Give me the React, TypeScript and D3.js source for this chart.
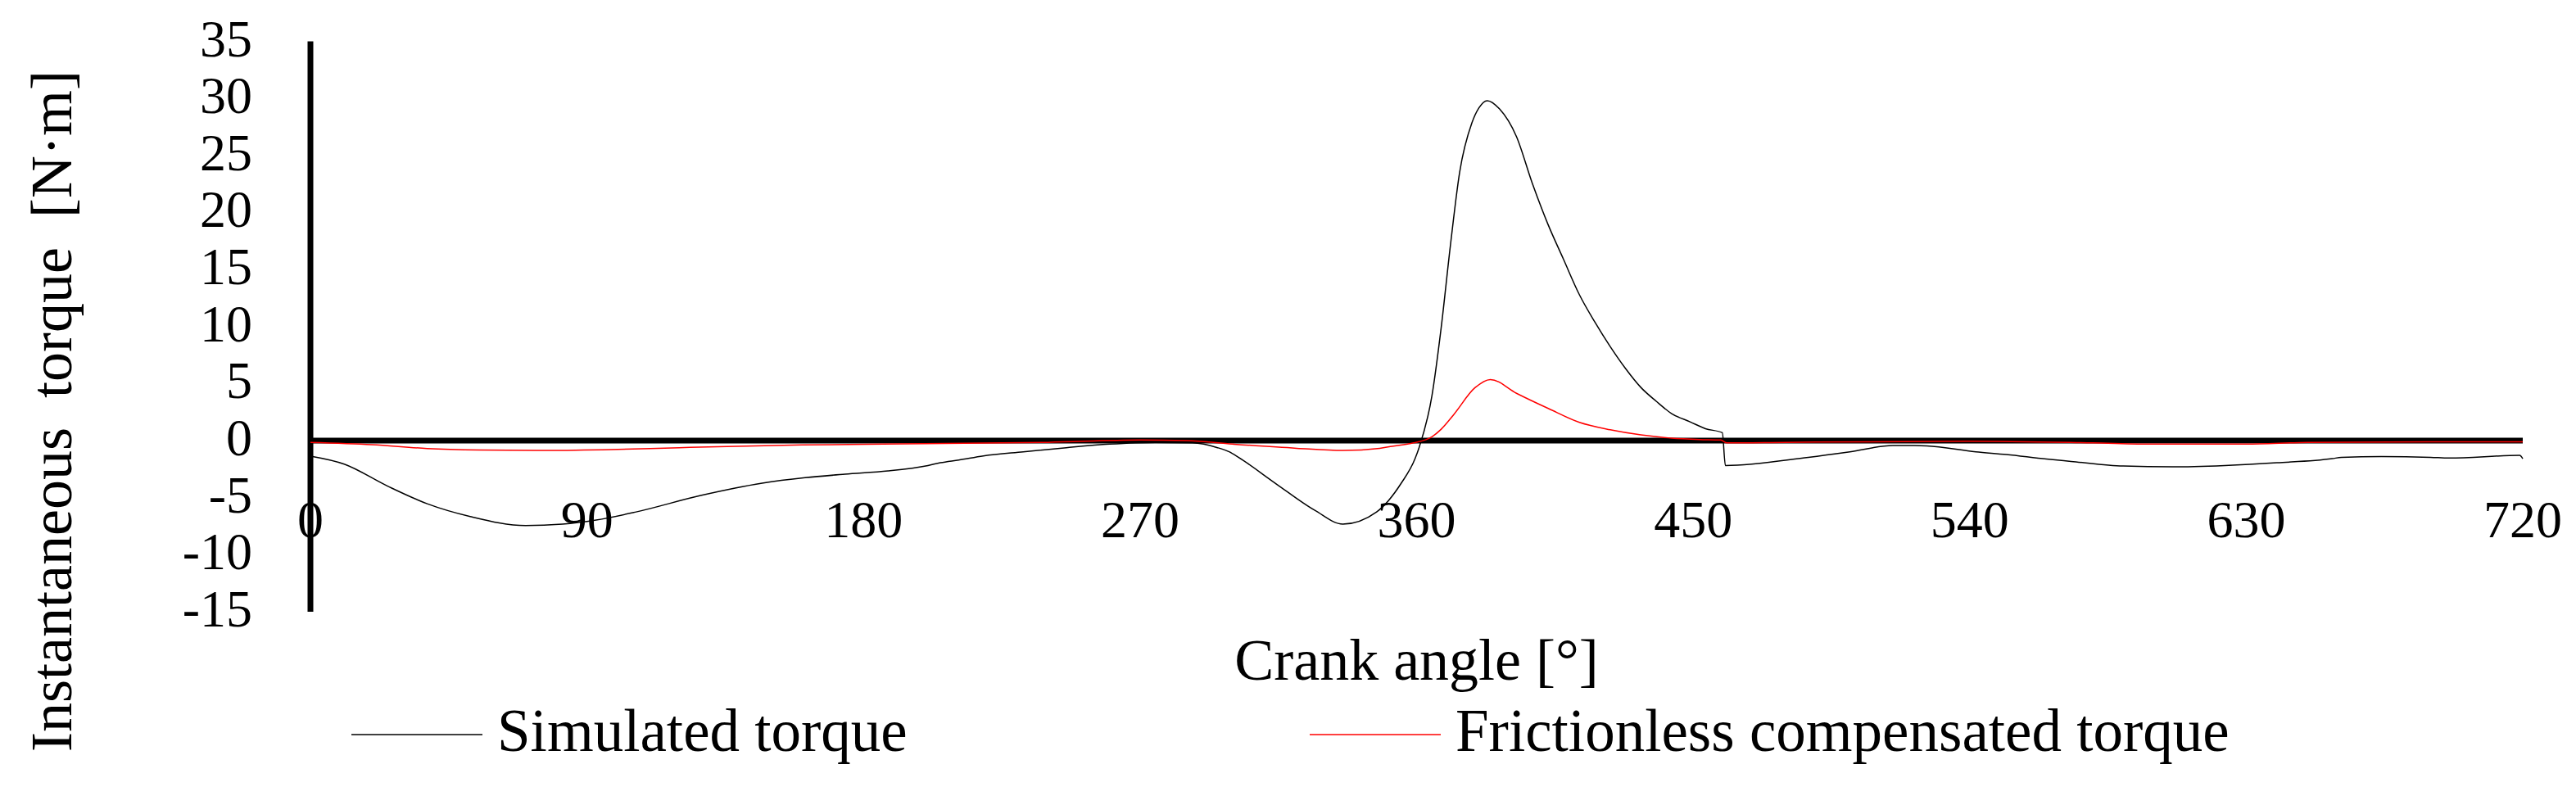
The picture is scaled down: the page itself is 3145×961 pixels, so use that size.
import { useEffect, useRef } from "react";
import * as d3 from "d3";

// crank angle [deg] / torque [N·m]
const simAngle = [
  0, 11, 25, 38, 52, 70, 82, 93, 106, 127, 147, 161, 174, 188, 201, 205, 211,
  219, 232, 246, 260, 275, 287, 295, 299, 302, 314, 327, 336, 347, 355, 359.5,
  360.8, 365, 368, 371, 374, 378, 380.3, 383, 387, 392.5, 397.6, 402.7,
  407.8, 413, 418, 423, 428, 433, 438, 443, 449, 454, 459.5, 460.5, 487.5, 501,
  515, 522, 526, 542, 552, 565, 573, 590, 606, 623, 640, 658, 661, 674, 690,
  696, 719, 720,
];
const simTorque = [
  -1.36, -2.06, -3.97, -5.53, -6.65, -7.44, -7.32, -6.96, -6.25, -4.81, -3.73,
  -3.25, -2.94, -2.66, -2.18, -1.94, -1.7, -1.34, -0.98, -0.62, -0.31, -0.15,
  -0.2, -0.6, -0.98, -1.46, -3.73, -6.13, -7.32, -6.25, -3.73, -1.58, -0.62,
  3.94, 9.9, 17.1, 23.5, 27.85, 29.17, 29.8, 29.07, 26.65, 22.6, 19.0,
  15.9, 12.78, 10.4, 8.25, 6.32, 4.66, 3.45, 2.37, 1.65, 1.05, 0.69, -2.18,
  -1.46, -0.98, -0.43, -0.43, -0.46, -0.98, -1.22, -1.62, -1.82, -2.23, -2.3,
  -2.18, -1.94, -1.58, -1.46, -1.39, -1.46, -1.53, -1.29, -1.58,
];

const frAngle = [
  0, 20, 38, 55, 74, 95, 120, 160, 200, 240, 270, 285, 300, 321, 336, 348, 352,
  359, 365, 368, 372, 379, 384, 392.5, 403, 413, 423, 433, 443, 452, 459, 461,
  480, 540, 580, 600, 630, 650, 690, 720,
];
const frTorque = [
  -0.15, -0.35, -0.69, -0.82, -0.86, -0.8, -0.62, -0.38, -0.26, -0.15, 0.05,
  0.0, -0.3, -0.67, -0.86, -0.67, -0.5, -0.2, 0.34, 1.0, 2.25, 4.64, 5.36, 4.15,
  2.8, 1.6, 0.95, 0.5, 0.22, 0.1, 0.05, -0.2, -0.15, -0.05, -0.2, -0.31, -0.31,
  -0.15, -0.1, -0.1,
];

const xTicks = [0, 90, 180, 270, 360, 450, 540, 630, 720];
const yTicks = [35, 30, 25, 20, 15, 10, 5, 0, -5, -10, -15];

const seriesNames = ["Simulated torque", "Frictionless compensated torque"];
const seriesColors = ["#000000", "#ff0000"];

function App() {
  const svgRef = useRef<SVGSVGElement | null>(null);
  const width = 3145;
  const height = 961;
  const font = "'Liberation Serif', 'Times New Roman', serif";

  useEffect(() => {
    const svg = d3.select(svgRef.current);
    svg.selectAll("*").remove();

    const xScale = d3.scaleLinear().domain([0, 720]).range([379, 3080]);
    const yScale = d3.scaleLinear().domain([-15, 35]).range([747, 50.5]);

    // y axis line
    svg
      .append("line")
      .attr("x1", xScale(0))
      .attr("x2", xScale(0))
      .attr("y1", yScale(35))
      .attr("y2", yScale(-15))
      .attr("stroke", "black")
      .attr("stroke-width", 7);

    // x axis sits on zero
    svg
      .append("line")
      .attr("x1", xScale(0))
      .attr("x2", xScale(720))
      .attr("y1", yScale(0))
      .attr("y2", yScale(0))
      .attr("stroke", "black")
      .attr("stroke-width", 7);

    svg
      .append("g")
      .selectAll("text")
      .data(yTicks)
      .join("text")
      .attr("x", 308)
      .attr("y", (d) => yScale(d) + 18)
      .attr("text-anchor", "end")
      .attr("font-family", font)
      .attr("font-size", 64)
      .text((d) => d);

    svg
      .append("g")
      .selectAll("text")
      .data(xTicks)
      .join("text")
      .attr("x", (d) => xScale(d))
      .attr("y", 656)
      .attr("text-anchor", "middle")
      .attr("font-family", font)
      .attr("font-size", 64)
      .text((d) => d);

    const line = d3
      .line<[number, number]>()
      .x((d) => xScale(d[0]))
      .y((d) => yScale(d[1]))
      .curve(d3.curveMonotoneX);

    const simData = simAngle.map((a, i) => [a, simTorque[i]] as [number, number]);
    const frData = frAngle.map((a, i) => [a, frTorque[i]] as [number, number]);

    svg
      .append("path")
      .attr("d", line(simData) as string)
      .attr("fill", "none")
      .attr("stroke", seriesColors[0])
      .attr("stroke-width", 1.5);

    svg
      .append("path")
      .attr("d", line(frData) as string)
      .attr("fill", "none")
      .attr("stroke", seriesColors[1])
      .attr("stroke-width", 1.5);

    // axis titles
    svg
      .append("text")
      .attr("x", (xScale(0) + xScale(720)) / 2)
      .attr("y", 830)
      .attr("text-anchor", "middle")
      .attr("font-family", font)
      .attr("font-size", 72)
      .text("Crank angle [°]");

    svg
      .append("text")
      .attr("transform", `translate(87, 502) rotate(-90)`)
      .attr("text-anchor", "middle")
      .attr("font-family", font)
      .attr("font-size", 72)
      .style("white-space", "pre")
      .text("Instantaneous  torque  [N·m]");

    // legend
    const legendX = [429, 1599];
    seriesNames.forEach((name, i) => {
      const g = svg.append("g");
      g.append("line")
        .attr("x1", legendX[i])
        .attr("x2", legendX[i] + 160)
        .attr("y1", 897)
        .attr("y2", 897)
        .attr("stroke", seriesColors[i])
        .attr("stroke-width", 1.5);
      g.append("text")
        .attr("x", legendX[i] + 178)
        .attr("y", 917)
        .attr("font-family", font)
        .attr("font-size", 73)
        .text(name);
    });
  }, []);

  return (
    <svg
      ref={svgRef}
      width={width}
      height={height}
      style={{ position: "absolute", left: 0, top: 0, background: "white" }}
    ></svg>
  );
}

export default App;
